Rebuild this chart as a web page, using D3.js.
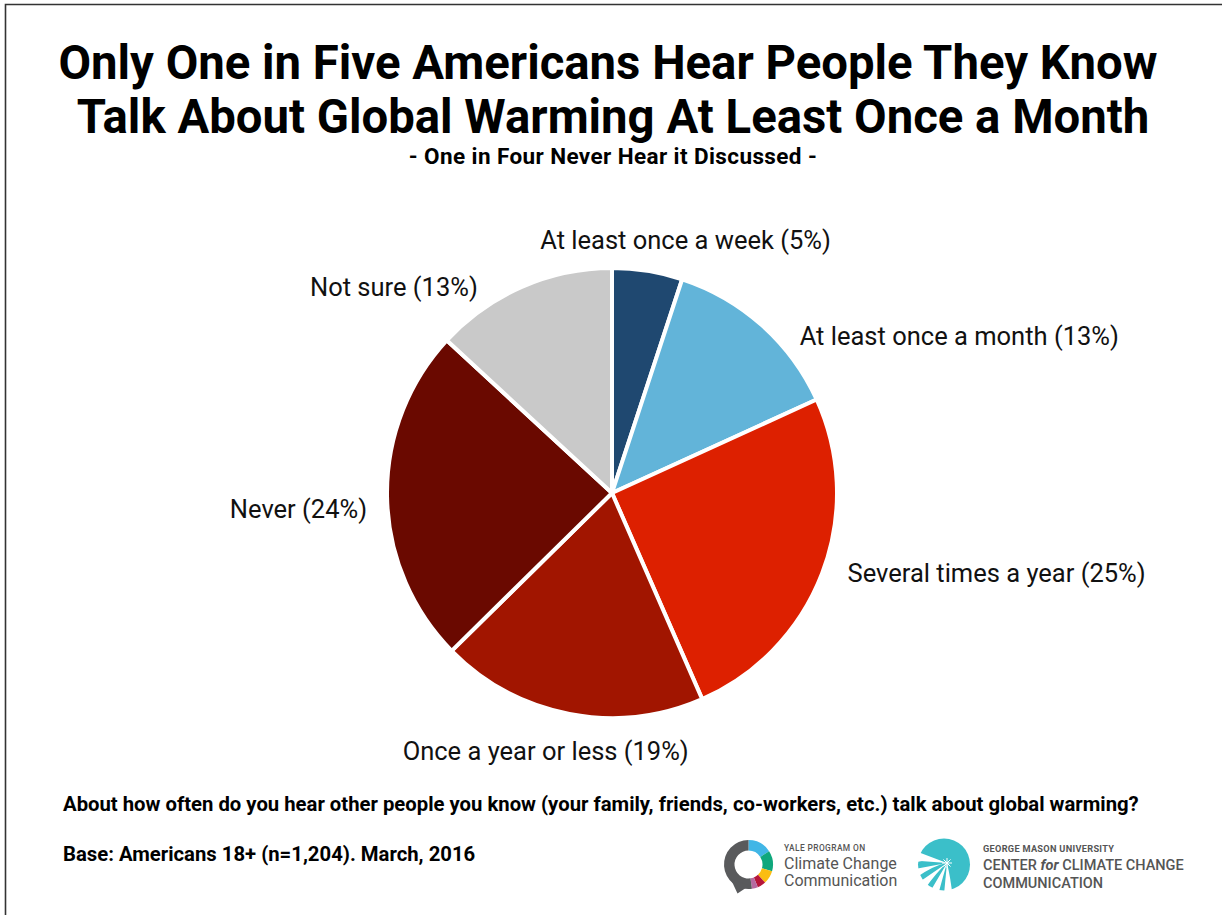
<!DOCTYPE html>
<html>
<head>
<meta charset="utf-8">
<script src="https://cdn.jsdelivr.net/npm/d3@7"></script>
<style>
  html, body { margin: 0; padding: 0; background: #fff; }
  svg { display: block; font-family: Roboto, "Noto Sans", sans-serif; }
</style>
</head>
<body>
<svg id="chart" width="1222" height="915"></svg>
<script>
// Survey answers, clockwise from 12 o'clock
const categories = [
  "At least once a week",
  "At least once a month",
  "Several times a year",
  "Once a year or less",
  "Never",
  "Not sure"
];
const shares = [5, 13, 25, 19, 24, 13];
const sliceColors = ["#1f4870", "#62b4d9", "#dd2000", "#a11500", "#6a0900", "#c9c9c9"];

const titleLines = [
  "Only One in Five Americans Hear People They Know",
  "Talk About Global Warming At Least Once a Month"
];
const subtitle = "- One in Four Never Hear it Discussed -";
const question = "About how often do you hear other people you know (your family, friends, co-workers, etc.) talk about global warming?";
const baseNote = "Base: Americans 18+ (n=1,204). March, 2016";

const W = 1222, H = 915;
const svg = d3.select("#chart");

// Frame
svg.append("path")
  .attr("d", `M5.5,${H} V4.5 H${W}`)
  .attr("fill", "none").attr("stroke", "#333").attr("stroke-width", 1.6);

// Titles
svg.selectAll("text.title").data(titleLines).join("text")
  .attr("class", "title")
  .attr("x", (d, i) => 608 + i * 5).attr("y", (d, i) => 79 + i * 54)
  .attr("text-anchor", "middle")
  .attr("font-size", 47.3).attr("font-weight", 700).attr("fill", "#000")
  .text(d => d);

svg.append("text")
  .attr("x", 613).attr("y", 164)
  .attr("text-anchor", "middle")
  .attr("font-size", 22.5).attr("font-weight", 700).attr("fill", "#000")
  .attr("letter-spacing", 0.4)
  .text(subtitle);

// Pie
const cx = 612, cy = 493, R = 225;
const pie = d3.pie().sort(null).value(d => d.value);
const arcs = pie(categories.map((c, i) => ({ name: c, value: shares[i], color: sliceColors[i] })));
const arc = d3.arc().innerRadius(0).outerRadius(R);
const labelArc = d3.arc().innerRadius(250).outerRadius(250);

const g = svg.append("g").attr("transform", `translate(${cx},${cy})`);
g.selectAll("path").data(arcs).join("path")
  .attr("d", arc)
  .attr("fill", d => d.data.color)
  .attr("stroke", "#fff").attr("stroke-width", 4).attr("stroke-linejoin", "round");

// Label placement tweaks around the outer ring
const labelNudge = {
  "At least once a week":  { dx: 34,  dy: 3,  anchor: "middle" },
  "At least once a month": { dx: 21,  dy: 38, anchor: "start" },
  "Several times a year":  { dx: 2,   dy: 0,  anchor: "start" },
  "Once a year or less":   { dx: -19, dy: 22, anchor: "middle" },
  "Never":                 { dx: 5,   dy: 21, anchor: "end" },
  "Not sure":              { dx: -34, dy: 32, anchor: "end" }
};

g.selectAll("text.label").data(arcs).join("text")
  .attr("class", "label")
  .each(function (d) {
    const [x, y] = labelArc.centroid(d);
    const n = labelNudge[d.data.name];
    d3.select(this)
      .attr("x", x + n.dx).attr("y", y + n.dy)
      .attr("text-anchor", n.anchor);
  })
  .attr("font-size", 25.5).attr("fill", "#111")
  .text(d => `${d.data.name} (${d.data.value}%)`);

// Footnotes
svg.append("text")
  .attr("x", 63).attr("y", 811)
  .attr("font-size", 20.3).attr("font-weight", 700).attr("fill", "#000")
  .text(question);
svg.append("text")
  .attr("x", 63).attr("y", 861)
  .attr("font-size", 20.3).attr("font-weight", 700).attr("fill", "#000")
  .text(baseNote);

// Yale Program on Climate Change Communication mark
const yale = svg.append("g").attr("transform", "translate(748.5,864.5)");
const ringArc = d3.arc().innerRadius(14).outerRadius(24.5);
const ringParts = [
  { a0: 0, a1: 1.0, c: "#41b6e6" },
  { a0: 1.0, a1: 1.85, c: "#0fa77c" },
  { a0: 1.85, a1: 2.4, c: "#fbbd12" },
  { a0: 2.4, a1: 2.75, c: "#b5163a" },
  { a0: 2.75, a1: 3.0, c: "#b66aa0" },
  { a0: 3.0, a1: 2 * Math.PI, c: "#595a5c" }
];
yale.selectAll("path.ring").data(ringParts).join("path")
  .attr("class", "ring")
  .attr("d", d => ringArc({ startAngle: d.a0, endAngle: d.a1 }))
  .attr("fill", d => d.c);
yale.append("path")
  .attr("d", "M-18,14 L-11,29 L1,21 Z")
  .attr("fill", "#595a5c");

svg.append("text").attr("x", 784).attr("y", 851)
  .attr("font-size", 8.4).attr("font-weight", 500).attr("fill", "#555").attr("letter-spacing", 0.4)
  .text("YALE PROGRAM ON");
svg.append("text").attr("x", 784).attr("y", 869)
  .attr("font-size", 16).attr("fill", "#555")
  .text("Climate Change");
svg.append("text").attr("x", 784).attr("y", 886)
  .attr("font-size", 16).attr("fill", "#555")
  .text("Communication");

// Center for Climate Change Communication mark: teal disc with a white burst fanning to the left
const gmu = svg.append("g").attr("transform", "translate(944,864.5)");
gmu.append("circle").attr("r", 26).attr("fill", "#3bbfc9");
const ox = 3, oy = -1.5;
const rayAngles = [172, 198, 222, 247, 272];   // degrees, screen coords (0 = right, 90 = down)
gmu.selectAll("path.ray").data(rayAngles).join("path")
  .attr("class", "ray")
  .attr("d", d => {
    const a = -d * Math.PI / 180;
    const w = 0.13;
    const x1 = ox + Math.cos(a - w) * 34, y1 = oy + Math.sin(a - w) * 34;
    const x2 = ox + Math.cos(a + w) * 34, y2 = oy + Math.sin(a + w) * 34;
    const mx = ox + Math.cos(a) * 18 + 3, my = oy + Math.sin(a) * 18 - 3;
    return `M${ox},${oy} Q${mx},${my} ${x1},${y1} L${x2},${y2} Z`;
  })
  .attr("fill", "#fff");
// wedge opening on the left edge
gmu.append("path")
  .attr("d", `M${ox},${oy} L-30,-14 L-30,-4 Z`)
  .attr("fill", "#fff");
// small star at the focal point
gmu.selectAll("line.star").data([0, 45, 90, 135]).join("line")
  .attr("class", "star")
  .attr("x1", d => ox + Math.cos(d * Math.PI / 180) * 5)
  .attr("y1", d => oy + Math.sin(d * Math.PI / 180) * 5)
  .attr("x2", d => ox - Math.cos(d * Math.PI / 180) * 5)
  .attr("y2", d => oy - Math.sin(d * Math.PI / 180) * 5)
  .attr("stroke", "#fff").attr("stroke-width", 1);

svg.append("text").attr("x", 983).attr("y", 852)
  .attr("font-size", 9.2).attr("font-weight", 700).attr("fill", "#555").attr("letter-spacing", 0.3)
  .text("GEORGE MASON UNIVERSITY");
const ctr = svg.append("text").attr("x", 983).attr("y", 870)
  .attr("font-size", 14.5).attr("font-weight", 500).attr("fill", "#555");
ctr.append("tspan").text("CENTER ");
ctr.append("tspan").attr("font-style", "italic").attr("font-weight", 700).text("for");
ctr.append("tspan").text(" CLIMATE CHANGE");
svg.append("text").attr("x", 983).attr("y", 888)
  .attr("font-size", 14.5).attr("font-weight", 500).attr("fill", "#555")
  .text("COMMUNICATION");
</script>
</body>
</html>
